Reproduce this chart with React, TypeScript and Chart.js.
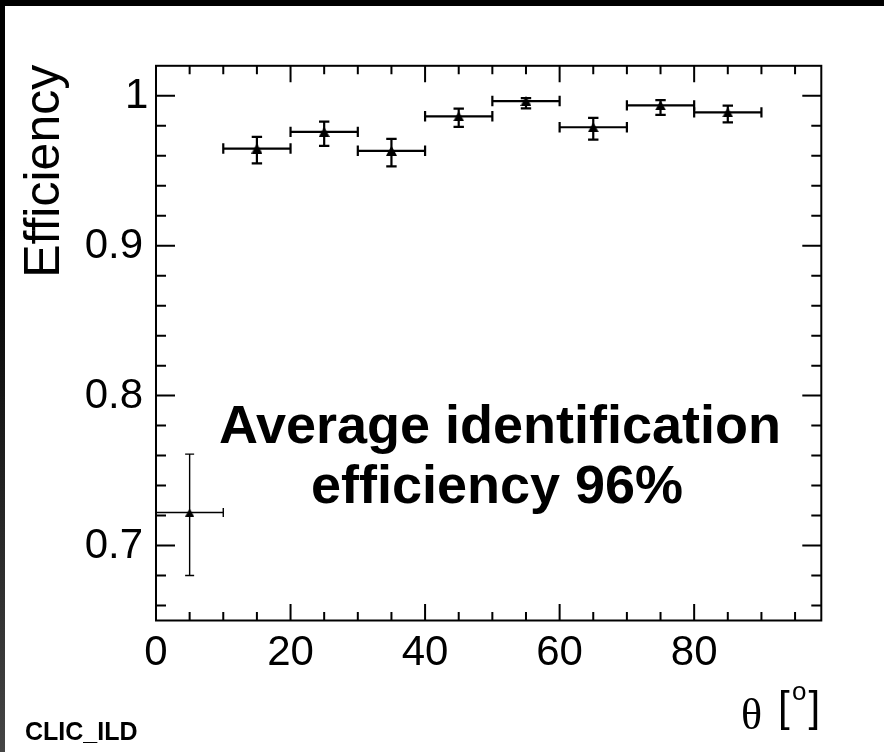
import React, { useEffect, useRef } from "react";
import { Chart, registerables } from "chart.js";

Chart.register(...registerables);

// ---- data ----
const thetaCenters = [5, 15, 25, 35, 45, 55, 65, 75, 85];
const thetaHalfWidths = [5, 5, 5, 5, 5, 5, 5, 5, 5];
const efficiency = [0.722, 0.9648, 0.9759, 0.9633, 0.9863, 0.9965, 0.979, 0.9936, 0.9889];
const efficiencyErrUp = [0.039, 0.0078, 0.0068, 0.008, 0.0051, 0.002, 0.0062, 0.0035, 0.0045];
const efficiencyErrDown = [0.042, 0.0099, 0.0093, 0.0104, 0.0071, 0.0049, 0.0082, 0.0064, 0.0066];

// ---- axes ----
const xRange = [0, 98.9];
const yRange = [0.65, 1.02];
const xMajorTicks = [0, 20, 40, 60, 80];
const xMinorTicks = [5, 10, 15, 25, 30, 35, 45, 50, 55, 65, 70, 75, 85, 90, 95];
const yMajorTicks = [0.7, 0.8, 0.9, 1.0];
const yTickLabels = ["0.7", "0.8", "0.9", "1"];
const yMinorTicks = [0.66, 0.68, 0.72, 0.74, 0.76, 0.78, 0.82, 0.84, 0.86, 0.88, 0.92, 0.94, 0.96, 0.98];
const yTitle = "Efficiency";
const xTitleSymbol = "θ";
const xTitleUnit = ["[", "o", "]"];
const annotationLines = ["Average identification", "efficiency 96%"];
const footerLabel = "CLIC_ILD";

const SANS = '"Liberation Sans", Arial, Helvetica, sans-serif';
const SERIF = '"Liberation Serif", "Times New Roman", serif';

function makeTriangle(w: number, h: number): HTMLCanvasElement {
  const c = document.createElement("canvas");
  c.width = w;
  c.height = h;
  const g = c.getContext("2d")!;
  g.fillStyle = "#000";
  g.beginPath();
  g.moveTo(w / 2, 0);
  g.lineTo(w, h);
  g.lineTo(0, h);
  g.closePath();
  g.fill();
  return c;
}

const rootStyle = {
  id: "rootStyle",
  beforeDatasetsDraw(chart: any) {
    const ctx = chart.ctx as CanvasRenderingContext2D;
    const xs = chart.scales.x;
    const ys = chart.scales.y;
    ctx.save();
    ctx.strokeStyle = "#000";
    for (let i = 0; i < thetaCenters.length; i++) {
      const thin = i === 0;
      ctx.lineWidth = thin ? 1.4 : 2.2;
      const cap = thin ? 4.5 : 5.2;
      const x = xs.getPixelForValue(thetaCenters[i]);
      const y = ys.getPixelForValue(efficiency[i]);
      const xl = xs.getPixelForValue(thetaCenters[i] - thetaHalfWidths[i]);
      const xr = xs.getPixelForValue(thetaCenters[i] + thetaHalfWidths[i]);
      const yt = ys.getPixelForValue(efficiency[i] + efficiencyErrUp[i]);
      const yb = ys.getPixelForValue(efficiency[i] - efficiencyErrDown[i]);
      ctx.beginPath();
      ctx.moveTo(xl, y);
      ctx.lineTo(xr, y);
      ctx.moveTo(x, yt);
      ctx.lineTo(x, yb);
      ctx.moveTo(xl, y - cap);
      ctx.lineTo(xl, y + cap);
      ctx.moveTo(xr, y - cap);
      ctx.lineTo(xr, y + cap);
      ctx.moveTo(x - cap, yt);
      ctx.lineTo(x + cap, yt);
      ctx.moveTo(x - cap, yb);
      ctx.lineTo(x + cap, yb);
      ctx.stroke();
    }
    ctx.restore();
  },
  afterDraw(chart: any) {
    const ctx = chart.ctx as CanvasRenderingContext2D;
    const { left, right, top, bottom } = chart.chartArea;
    const xs = chart.scales.x;
    const ys = chart.scales.y;
    ctx.save();
    ctx.strokeStyle = "#000";
    ctx.lineWidth = 2;
    ctx.strokeRect(left, top, right - left, bottom - top);
    ctx.beginPath();
    const xTick = (v: number, len: number) => {
      const p = xs.getPixelForValue(v);
      ctx.moveTo(p, bottom);
      ctx.lineTo(p, bottom - len);
      ctx.moveTo(p, top);
      ctx.lineTo(p, top + len);
    };
    const yTick = (v: number, len: number) => {
      const p = ys.getPixelForValue(v);
      ctx.moveTo(left, p);
      ctx.lineTo(left + len, p);
      ctx.moveTo(right, p);
      ctx.lineTo(right - len, p);
    };
    xMajorTicks.forEach((v) => xTick(v, 16.5));
    xMinorTicks.forEach((v) => xTick(v, 8.5));
    yMajorTicks.forEach((v) => yTick(v, 19));
    yMinorTicks.forEach((v) => yTick(v, 10));
    ctx.stroke();

    ctx.fillStyle = "#000";

    // y tick labels, placed by the ink edge of the glyphs
    ctx.font = `42px ${SANS}`;
    ctx.textBaseline = "middle";
    ctx.textAlign = "right";
    yMajorTicks.forEach((v, i) => {
      const label = yTickLabels[i];
      const m = ctx.measureText(label);
      const inkTarget = left - 14.3 + (label.length === 1 ? 5.3 : 0);
      ctx.fillText(label, inkTarget - m.actualBoundingBoxRight, ys.getPixelForValue(v) + 0.5);
    });

    // y title
    ctx.save();
    ctx.translate(59, top - 1);
    ctx.rotate(-Math.PI / 2);
    ctx.font = `50px ${SANS}`;
    ctx.textAlign = "right";
    ctx.textBaseline = "alphabetic";
    ctx.fillText(yTitle, 0, 0);
    ctx.restore();

    // x title
    ctx.textBaseline = "alphabetic";
    ctx.textAlign = "left";
    ctx.font = `44px ${SERIF}`;
    ctx.fillText(xTitleSymbol, 741, 729);
    ctx.font = `42px ${SANS}`;
    ctx.fillText(xTitleUnit[0], 778, 721);
    ctx.font = `26px ${SANS}`;
    ctx.fillText(xTitleUnit[1], 792, 700);
    ctx.font = `42px ${SANS}`;
    ctx.fillText(xTitleUnit[2], 808.5, 721);

    // annotation
    ctx.font = `bold 54px ${SANS}`;
    ctx.textAlign = "center";
    ctx.fillText(annotationLines[0], 500, 443);
    ctx.fillText(annotationLines[1], 497, 503);

    // footer
    ctx.font = `bold 25px ${SANS}`;
    ctx.textAlign = "left";
    ctx.fillText(footerLabel, 25, 739.5);
    ctx.restore();
  },
};

export default function App() {
  const canvasRef = useRef<HTMLCanvasElement | null>(null);

  useEffect(() => {
    if (!canvasRef.current) return;
    const triBig = makeTriangle(11, 10);
    const triSmall = makeTriangle(9, 8);
    const points = thetaCenters.map((x, i) => ({ x, y: efficiency[i] }));
    const chart = new Chart(canvasRef.current, {
      type: "scatter",
      data: {
        datasets: [
          {
            data: points,
            pointStyle: points.map((_, i) => (i === 0 ? triSmall : triBig)) as any,
            pointRadius: 5,
            backgroundColor: "#000",
            borderColor: "#000",
            borderWidth: 0,
          },
        ],
      },
      options: {
        animation: false,
        responsive: false,
        devicePixelRatio: 1,
        events: [],
        layout: { padding: { left: 0, top: 65.8, right: 62.7, bottom: 0 } },
        plugins: { legend: { display: false }, tooltip: { enabled: false } },
        scales: {
          x: {
            type: "linear",
            position: "bottom",
            min: xRange[0],
            max: xRange[1],
            grid: { display: false, drawTicks: false },
            border: { display: false },
            ticks: {
              color: "#000",
              font: { family: SANS, size: 42 },
              padding: 7.3,
              maxRotation: 0,
              autoSkip: false,
              callback: (v: any) => String(v),
            },
            afterBuildTicks: (scale: any) => {
              scale.ticks = xMajorTicks.map((v) => ({ value: v }));
            },
            afterFit: (scale: any) => {
              scale.height = 752 - 620.5;
            },
          },
          y: {
            type: "linear",
            position: "left",
            min: yRange[0],
            max: yRange[1],
            grid: { display: false, drawTicks: false },
            border: { display: false },
            ticks: { display: false },
            afterBuildTicks: (scale: any) => {
              scale.ticks = yMajorTicks.map((v) => ({ value: v }));
            },
            afterFit: (scale: any) => {
              scale.width = 156;
            },
          },
        },
      },
      plugins: [rootStyle],
    });
    return () => chart.destroy();
  }, []);

  return (
    <div style={{ position: "fixed", left: 0, top: 0, width: 884, height: 752, background: "#fff", overflow: "hidden" }}>
      <canvas ref={canvasRef} width={884} height={752} style={{ position: "absolute", left: 0, top: 0, width: 884, height: 752 }} />
      <div style={{ position: "absolute", left: 0, top: 0, width: 884, height: 6, background: "#000" }} />
      <div
        style={{
          position: "absolute",
          left: 0,
          top: 0,
          width: 5,
          height: 752,
          background: "linear-gradient(#000 0%, #000 30%, #454545 100%)",
        }}
      />
    </div>
  );
}
